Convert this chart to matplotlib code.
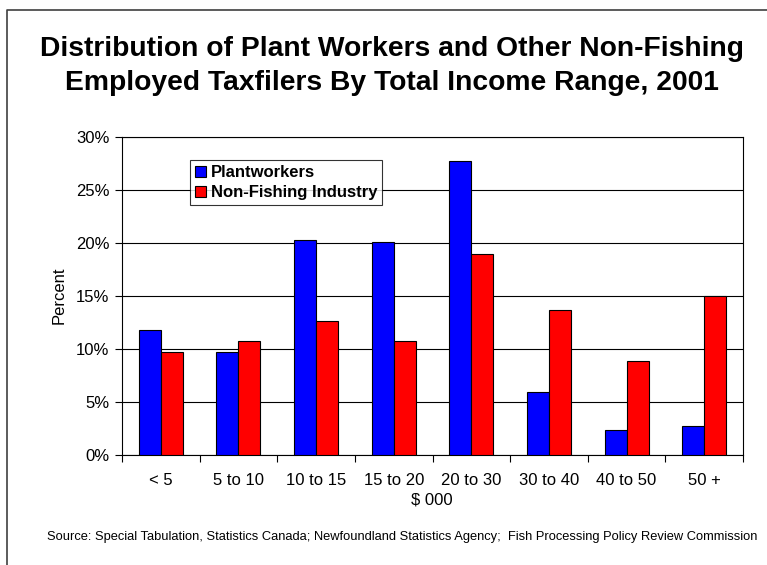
import matplotlib.pyplot as plt
import numpy as np
from matplotlib.lines import Line2D

plt.rcParams['font.family'] = ['Liberation Sans', 'DejaVu Sans']

categories = ['< 5', '5 to 10', '10 to 15', '15 to 20', '20 to 30', '30 to 40', '40 to 50', '50 +']
plantworkers = [11.8, 9.7, 20.3, 20.1, 27.7, 5.9, 2.4, 2.7]
non_fishing = [9.75, 10.8, 12.6, 10.8, 19.0, 13.7, 8.9, 15.0]
yticks = [0, 5, 10, 15, 20, 25, 30]

W, H = 767, 565
fig = plt.figure(figsize=(W / 100, H / 100), dpi=100)

# axes box in pixels: left 122, right 743, top 137, bottom 455
ax = fig.add_axes([122 / W, 1 - 455 / H, (743 - 122) / W, (455 - 137) / H])

x = np.arange(len(categories))
bw = 0.283
ax.bar(x - bw / 2, plantworkers, bw, color='#0000FF', edgecolor='black', linewidth=0.8,
       label='Plantworkers', zorder=3)
ax.bar(x + bw / 2, non_fishing, bw, color='#FF0000', edgecolor='black', linewidth=0.8,
       label='Non-Fishing Industry', zorder=3)

ax.set_xlim(-0.5, len(categories) - 0.5)
ax.set_ylim(0, 30)
ax.set_yticks(yticks)
ax.set_yticklabels([f'{v}%' for v in yticks], fontsize=12)
ax.yaxis.grid(True, color='black', linewidth=0.8, zorder=0)

# category boundaries get the tick marks, labels sit at the centres
ax.set_xticks(np.arange(len(categories) + 1) - 0.5)
ax.set_xticklabels([])
ax.set_xticks(x, minor=True)
ax.set_xticklabels(categories, minor=True, fontsize=12)
ax.tick_params(axis='x', which='major', length=5, width=0.8, direction='out')
ax.tick_params(axis='x', which='minor', length=0, pad=13)
ax.tick_params(axis='y', length=5, width=0.8, direction='out', pad=4)
for s in ax.spines.values():
    s.set_linewidth(0.8)
    s.set_color('black')

leg = ax.legend(loc='upper left', bbox_to_anchor=((190 - 122) / 621, (455 - 160) / 318),
                borderaxespad=0, frameon=True, fancybox=False, edgecolor='black',
                prop={'weight': 'bold', 'size': 12}, handlelength=0.65, handleheight=0.65,
                handletextpad=0.3, labelspacing=0.3, borderpad=0.3)
leg.get_frame().set_linewidth(0.8)

fig.text(432 / W, 1 - 500 / H, '$ 000', ha='center', va='center', fontsize=12)
fig.text(59 / W, 1 - 295 / H, 'Percent', ha='center', va='center', rotation=90, fontsize=12)

fig.text(392 / W, 1 - 56 / H, 'Distribution of Plant Workers and Other Non-Fishing',
         ha='center', va='baseline', fontsize=20.3, fontweight='bold')
fig.text(392 / W, 1 - 90.5 / H, 'Employed Taxfilers By Total Income Range, 2001',
         ha='center', va='baseline', fontsize=20.3, fontweight='bold')

fig.text(402 / W, 1 - 540 / H,
         'Source: Special Tabulation, Statistics Canada; Newfoundland Statistics Agency;  '
         'Fish Processing Policy Review Commission',
         ha='center', va='baseline', fontsize=9.3)

# outer frame, only left and top edges
fig.add_artist(Line2D([6.5 / W, 6.5 / W, 1], [0, 1 - 10 / H, 1 - 10 / H],
                      transform=fig.transFigure, color='#404040', linewidth=1.2))

fig.savefig('out.png', dpi=100)
